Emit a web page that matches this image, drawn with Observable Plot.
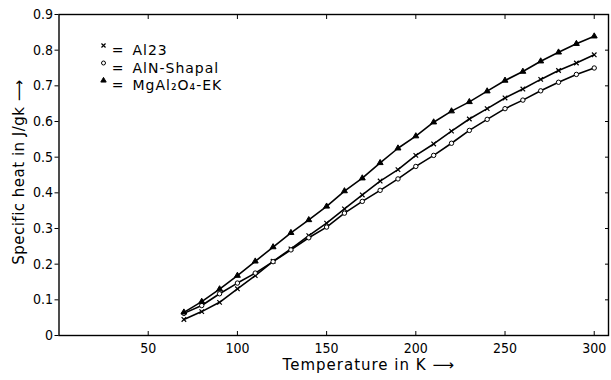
<!DOCTYPE html>
<html>
<head>
<meta charset="utf-8">
<script src="https://cdn.jsdelivr.net/npm/d3@7"></script>
<script src="https://cdn.jsdelivr.net/npm/@observablehq/plot@0.6"></script>
<style>
  html, body { margin: 0; padding: 0; background: #fff; }
  #chart { width: 611px; height: 380px; }
  .wide text { letter-spacing: 1px; }
  .mid text { letter-spacing: 0.5px; }
</style>
</head>
<body>
<div id="chart"></div>
<script>
const temperature = [70, 80, 90, 100, 110, 120, 130, 140, 150, 160, 170, 180, 190, 200, 210, 220, 230, 240, 250, 260, 270, 280, 290, 300];
const mgal2o4 = [0.065, 0.095, 0.130, 0.168, 0.208, 0.248, 0.288, 0.324, 0.362, 0.405, 0.441, 0.484, 0.525, 0.559, 0.598, 0.629, 0.655, 0.685, 0.715, 0.740, 0.769, 0.794, 0.818, 0.839];
const al23 = [0.045, 0.067, 0.093, 0.131, 0.168, 0.208, 0.243, 0.280, 0.315, 0.355, 0.394, 0.433, 0.465, 0.505, 0.537, 0.573, 0.607, 0.636, 0.666, 0.691, 0.718, 0.743, 0.764, 0.787];
const alnShapal = [0.062, 0.084, 0.117, 0.147, 0.175, 0.207, 0.240, 0.274, 0.304, 0.343, 0.376, 0.407, 0.439, 0.474, 0.505, 0.539, 0.575, 0.606, 0.636, 0.660, 0.686, 0.710, 0.732, 0.750];

const seriesNames = ["Al23", "AlN-Shapal", "MgAl₂O₄-EK"];
const seriesValues = [al23, alnShapal, mgal2o4];
const seriesSymbols = ["times", "circle", "triangle"];
const seriesFills = ["none", "white", "black"];

const xTicks = [50, 100, 150, 200, 250, 300];
const xTickLabels = ["50", "100", "150", "200", "250", "300"];
const yTicks = [0, 0.1, 0.2, 0.3, 0.4, 0.5, 0.6, 0.7, 0.8, 0.9];
const yTickLabels = ["0", "0.1", "0.2", "0.3", "0.4", "0.5", "0.6", "0.7", "0.8", "0.9"];

const xLabel = "Temperature in K ⟶";
const yLabel = "Specific heat in J/gk ⟶";

const rows = [];
seriesNames.forEach((name, s) => {
  seriesValues[s].forEach((v, i) => rows.push({series: name, s, T: temperature[i], c: v}));
});

const FONT = "'DejaVu Sans Condensed', 'DejaVu Sans', sans-serif";
const LFONT = "'DejaVu Sans', sans-serif";

const marks = [
  Plot.frame({stroke: "black", strokeWidth: 1.4}),
  Plot.axisX({anchor: "bottom", ticks: xTicks, tickSize: -4, tickPadding: 12, tickFormat: (d, i) => xTickLabels[i], label: null, fontSize: 14, fill: "black"}),
  Plot.axisX({anchor: "top", ticks: xTicks, tickSize: -4, tickFormat: () => "", label: null}),
  Plot.axisY({anchor: "left", ticks: yTicks, tickSize: 4, tickPadding: 2, tickFormat: (d, i) => yTickLabels[i], label: null, fontSize: 14, fill: "black"}),
  Plot.axisY({anchor: "right", ticks: yTicks, tickSize: -4, tickFormat: () => "", label: null}),
  Plot.text([xLabel], {text: d => d, frameAnchor: "bottom", dx: 35, dy: 34, fontSize: 15, fontFamily: LFONT, fill: "black", textAnchor: "middle", className: "wide"}),
  Plot.text([yLabel], {text: d => d, frameAnchor: "left", dx: -40, dy: -3, rotate: -90, fontSize: 15, fontFamily: LFONT, fill: "black", textAnchor: "middle", className: "mid"})
];

seriesNames.forEach((name, s) => {
  const data = rows.filter(r => r.s === s);
  marks.push(Plot.line(data, {x: "T", y: "c", stroke: "black", strokeWidth: 1.6}));
  marks.push(Plot.dot(data, {x: "T", y: "c", symbol: () => seriesSymbols[s], r: 2.2, stroke: "black", strokeWidth: s === 0 ? 1.2 : 1, fill: seriesFills[s]}));
  // legend row
  marks.push(Plot.dot([name], {frameAnchor: "top-left", dx: 44.5, dy: 31 + s * 17.5, symbol: () => seriesSymbols[s], r: 2, stroke: "black", strokeWidth: s === 0 ? 1.2 : 1, fill: seriesFills[s]}));
  marks.push(Plot.text([name], {text: () => "=", frameAnchor: "top-left", dx: 58.5, dy: 31 + s * 17.5, textAnchor: "middle", fontSize: 14, fontFamily: LFONT, fill: "black"}));
  marks.push(Plot.text([name], {text: d => d, frameAnchor: "top-left", dx: 73.5, dy: 31 + s * 17.5, textAnchor: "start", fontSize: 14, fontFamily: LFONT, fill: "black", className: "wide"}));
});

const chart = Plot.plot({
  width: 611,
  height: 380,
  marginLeft: 58.5,
  marginRight: 3,
  marginTop: 14,
  marginBottom: 45,
  style: {fontFamily: FONT, fontSize: "14px", color: "black", background: "white"},
  x: {domain: [0, 308]},
  y: {domain: [0, 0.9]},
  marks
});
document.getElementById("chart").appendChild(chart);
</script>
</body>
</html>
